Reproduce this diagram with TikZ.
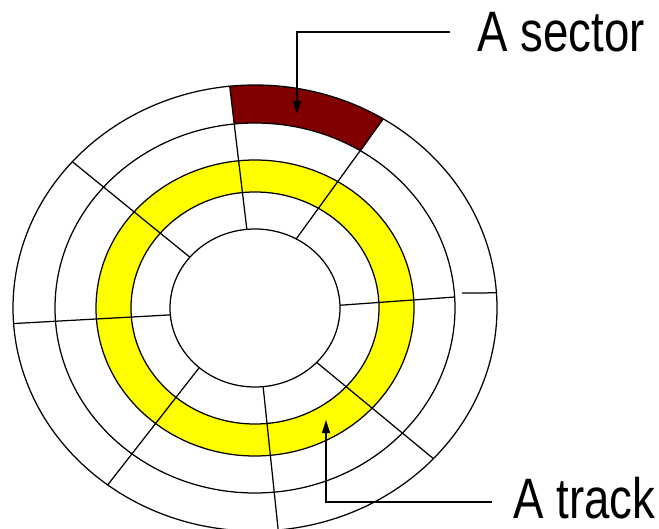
\documentclass[tikz,border=0pt]{standalone}
\usepackage{fontspec}
\newfontfamily\labelfont[FakeStretch=0.8]{Liberation Sans}
\usepackage{xcolor}
\usepackage{tikz}
\usetikzlibrary{arrows.meta}

\definecolor{sectorred}{RGB}{128,0,0}
\definecolor{trackyellow}{RGB}{255,255,0}

\begin{document}
\begin{tikzpicture}[x=1pt, y=-1pt, line width=1.25pt,
    callout/.style={font=\labelfont\fontsize{57}{57}\selectfont, inner ysep=0pt, anchor=west},
    pointer/.style={line width=1.1pt, -{Triangle[length=13pt, width=8pt]}}]
  \useasboundingbox (0,0) rectangle (659,529);
  \coordinate (c) at (255,308);

  % yellow track and red sector
  \fill[trackyellow, even odd rule] (c) ellipse [x radius=159, y radius=148]
                                    (c) ellipse [x radius=124, y radius=116];
  \fill[sectorred] plot[domain=58:96, samples=30] ({255+242*cos(\x)}, {308-223*sin(\x)})
    -- plot[domain=96:58, samples=30] ({255+200*cos(\x)}, {308-185*sin(\x)}) -- cycle;

  % rims
  \foreach \rx/\ry in {85/79, 124/116, 159/148, 200/185, 242/223}
    \draw (c) ellipse [x radius=\rx, y radius=\ry];

  % sector borders
  \foreach \a/\b in {95.5/96, 61/58, -43.5/-42.5, -84.5/-84.5, -131/-127.5, -175/-176, 140/139}
    \draw ({255+85*cos(\a)}, {308-79*sin(\a)}) -- ({255+242*cos(\b)}, {308-223*sin(\b)});
  \draw ({255+85*cos(2)}, {308-79*sin(2)}) -- ({255+200*cos(3.4)}, {308-185*sin(3.4)});
  \draw (462,293) -- ({255+242*cos(3.9)}, {308-223*sin(3.9)});

  % labels
  \node[callout, inner xsep=27pt] (seclabel) at (450,32) {A sector};
  \node[callout, inner xsep=21pt] (trklabel) at (492,498) {A track};
  \coordinate (sectip) at (297,114);
  \coordinate (trktip) at (326,420);
  \draw[pointer] (seclabel.west) -| (sectip);
  \draw[pointer] ([yshift=-4pt]trklabel.west) -| (trktip);
\end{tikzpicture}
\end{document}
